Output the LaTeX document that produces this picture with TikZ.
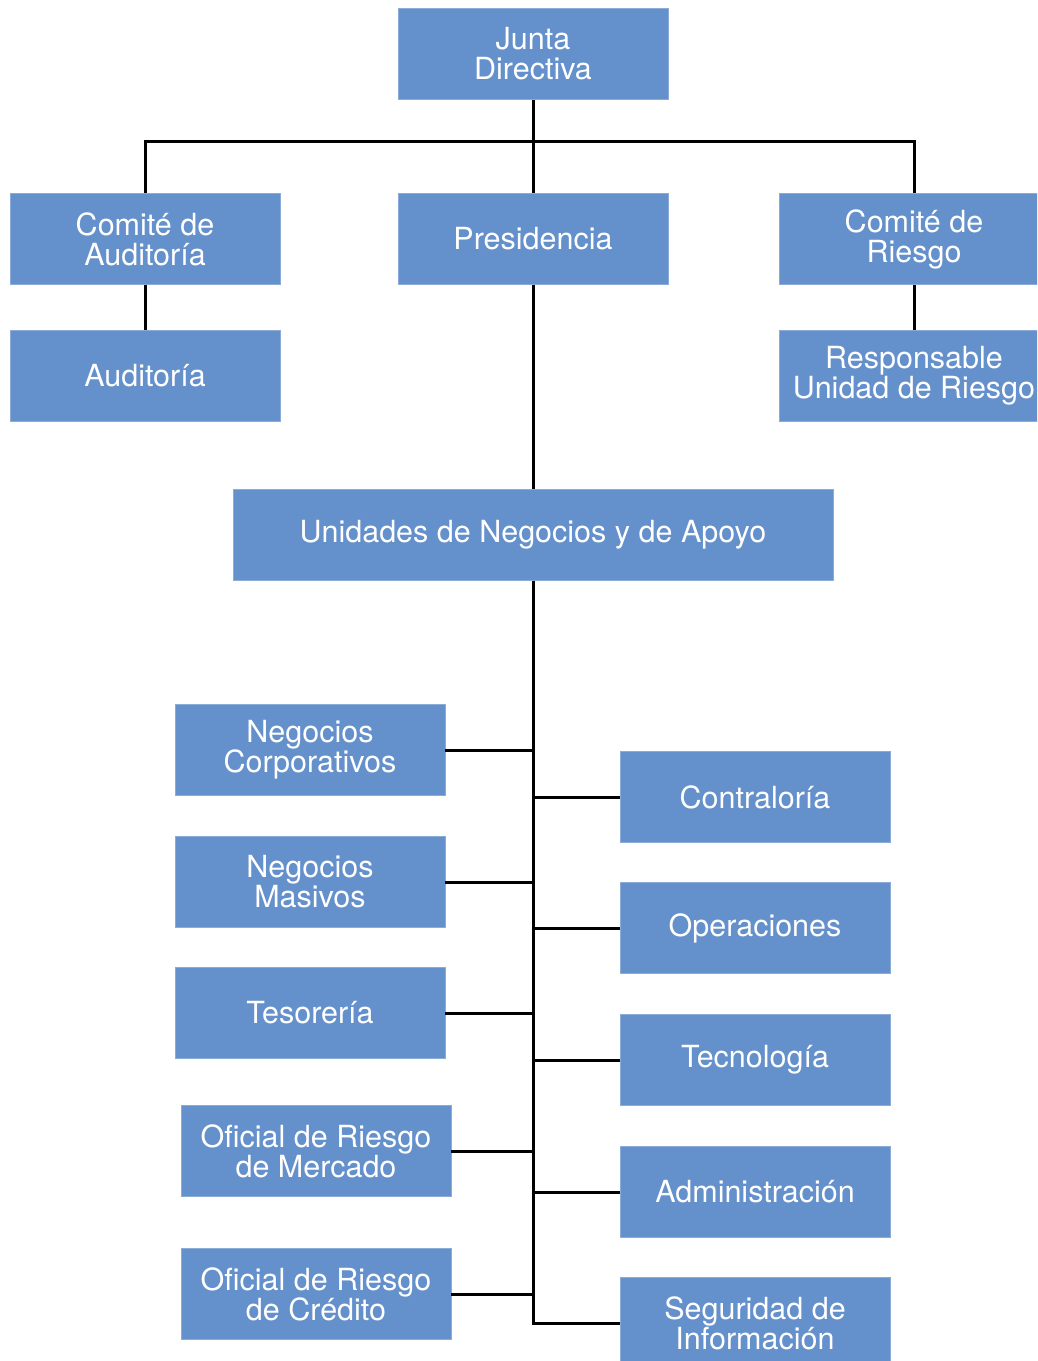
\documentclass[tikz,border=0pt]{standalone}
\usepackage{fontspec}
\setmainfont{TeX Gyre Heros}
\usetikzlibrary{calc}
\definecolor{boxblue}{RGB}{100,144,203}
\tikzset{
 unit/.style={rectangle,fill=boxblue,draw=boxblue!75!white,line width=.8pt,text=white,minimum width=270pt,minimum height=91pt,inner sep=0,align=center,font=\fontsize{30.5}{30}\selectfont},
 wideunit/.style={unit,minimum width=600pt},
 link/.style={line width=3pt}
}
\begin{document}
\begin{tikzpicture}[x=1pt,y=-1pt]
\useasboundingbox (0,0) rectangle (1037,1361);
\clip (0,0) rectangle (1037,1361);
% top of the chart
\node[unit] (junta) at (533,54) {Junta\\Directiva};
\node[unit] (comaud) at (145,239) {Comité de\\Auditoría};
\node[unit] (presid) at (533,239) {Presidencia};
\node[unit] (comriesgo) at (914,239) {Comité de\\Riesgo};
\node[unit] (audit) at (145,376) {Auditoría};
\node[unit] (respriesgo) at (914,376) {Responsable\\Unidad de Riesgo};
\node[wideunit] (unidades) at (533,535) {Unidades de Negocios y de Apoyo};
% business units
\node[unit] (negcorp) at (310,750) {Negocios\\Corporativos};
\node[unit] (negmas) at (310,882) {Negocios\\Masivos};
\node[unit] (tesor) at (310,1013) {Tesorería};
\node[unit] (ofmerc) at (316,1151) {Oficial de Riesgo\\de Mercado};
\node[unit] (ofcred) at (316,1294) {Oficial de Riesgo\\de Crédito};
% support units
\node[unit] (contral) at (755,797) {Contraloría};
\node[unit] (operac) at (755,928) {Operaciones};
\node[unit] (tecno) at (755,1060) {Tecnología};
\node[unit] (admin) at (755,1192) {Administración};
\node[unit] (seguinf) at (755,1323) {Seguridad de\\Información};
\coordinate (bus) at (533,141);
\draw[link] (junta) -- (presid);
\draw[link] (comaud.north) |- (bus) -| (comriesgo.north);
\draw[link] (comaud) -- (audit);
\draw[link] (comriesgo) -- (respriesgo);
\draw[link] (presid) -- (unidades);
\foreach \b in {negcorp,negmas,tesor,ofmerc,ofcred}
  \draw[link] (\b.east) -| (unidades.south);
\foreach \b in {contral,operac,tecno,admin,seguinf}
  \draw[link] (unidades.south) |- (\b.west);
\end{tikzpicture}
\end{document}
